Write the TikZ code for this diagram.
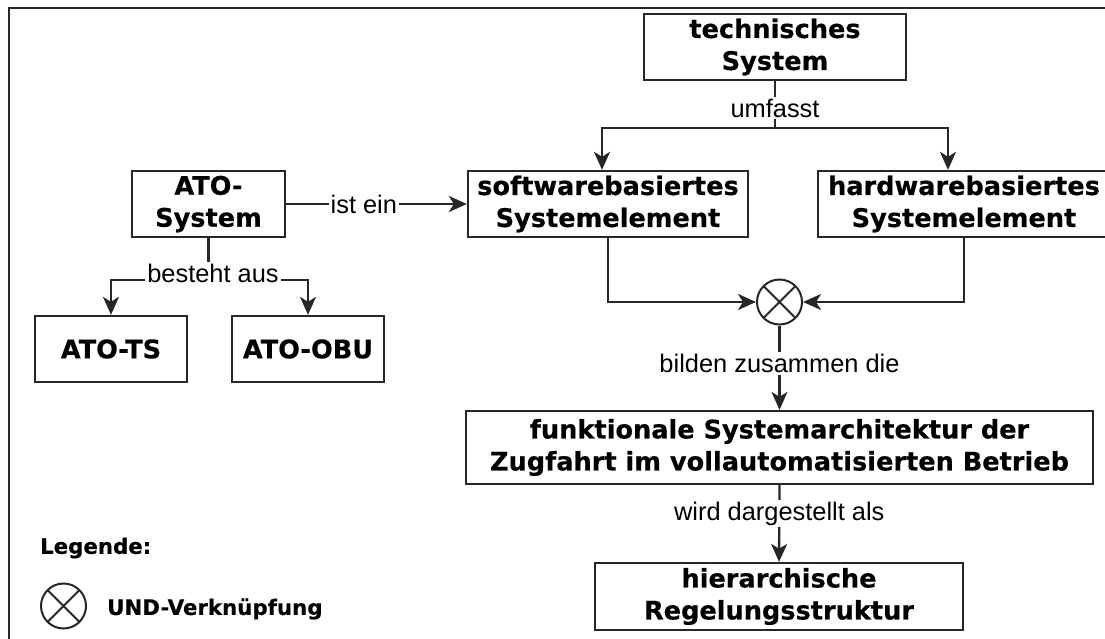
\documentclass[tikz,border=0pt]{standalone}
\usepackage{fontspec}
\setmainfont{DejaVu Sans}[BoldFeatures={FakeBold=0.4}]
\newfontfamily\lblfont{Liberation Sans}
\usetikzlibrary{arrows.meta}
\begin{document}
\begin{tikzpicture}[x=1pt,y=-1pt,
  box/.style={draw=black!85, line width=2.3pt, fill=white, rectangle, align=center,
    inner sep=0pt, font=\bfseries\fontsize{25.6}{32}\selectfont, text=black},
  lbl/.style={fill=white, inner sep=2pt, font=\lblfont\fontsize{25.4}{28}\selectfont},
  conn/.style={draw=black!85, line width=2.3pt},
  arr/.style={conn, -{Stealth[length=18pt,width=16pt,inset=5pt]}},
  undsym/.style={circle, draw=black!85, line width=2pt, minimum size=45pt, inner sep=0pt,
    fill=white, path picture={\draw[line width=2pt, black!85]
      (path picture bounding box.north west) -- (path picture bounding box.south east)
      (path picture bounding box.north east) -- (path picture bounding box.south west);}},
  legend/.style={font=\bfseries\fontsize{21.3}{26}\selectfont, inner sep=0pt, anchor=west},
]
\useasboundingbox (0,0) rectangle (1105,639);
% outer frame
\draw[line width=2.7pt, black!85] (9,660) -- (9,8) -- (1120,8);

% boxes
\node[box, minimum width=262pt, minimum height=66pt] (tech) at (775,47) {technisches\\System};
\node[box, minimum width=280pt, minimum height=66pt] (sw) at (608,204) {softwarebasiertes\\Systemelement};
\node[box, minimum width=292pt, minimum height=66pt] (hw) at (964,204) {hardwarebasiertes\\Systemelement};
\node[box, minimum width=153pt, minimum height=66pt] (ato) at (208.5,204) {ATO-\\System};
\node[box, minimum width=152pt, minimum height=66pt] (ts) at (111,349) {ATO-TS};
\node[box, minimum width=152pt, minimum height=66pt] (obu) at (308,349) {ATO-OBU};
\node[undsym] (und) at (779.5,302) {};
\node[box, minimum width=627pt, minimum height=73pt] (funk) at (779.5,447.5)
  {funktionale Systemarchitektur der\\Zugfahrt im vollautomatisierten Betrieb};
\node[box, minimum width=368pt, minimum height=67pt] (hier) at (779,596.5)
  {hierarchische\\Regelungsstruktur};

% technisches System umfasst ...
\coordinate (jt) at (775,128);
\draw[conn] (tech.south) -- (jt);
\draw[arr] (jt) -| ([xshift=-6pt]sw.north);
\draw[arr] (jt) -| ([xshift=-16pt]hw.north);
\node[lbl] (lumf) at (775,108) {umfasst};

% ATO-System ist ein ...
\draw[arr] (ato.east) -- (sw.west) node[lbl, pos=0.43] (list) {ist ein};

% ATO-System besteht aus ...
\coordinate (jb) at (208.5,280);
\draw[conn] (ato.south) -- (jb);
\draw[arr] (jb) -| (ts.north);
\draw[arr] (jb) -| (obu.north);
\node[lbl] (lbest) at (213,273) {besteht aus};

% AND combination
\draw[arr] (sw.south) |- (und.west);
\draw[arr] (hw.south) |- (und.east);
\draw[arr] (und.south) -- (funk.north) node[lbl, pos=0.45] (lbild) {bilden zusammen die};
\draw[arr] (funk.south) -- (hier.north) node[lbl, pos=0.37] (lwird) {wird dargestellt als};

% legend
\node[legend] (leg) at (40,548) {Legende:};
\node[undsym] (legsym) at (63.5,606) {};
\node[legend] (legtxt) at (107,609) {UND-Verknüpfung};
\end{tikzpicture}
\end{document}
